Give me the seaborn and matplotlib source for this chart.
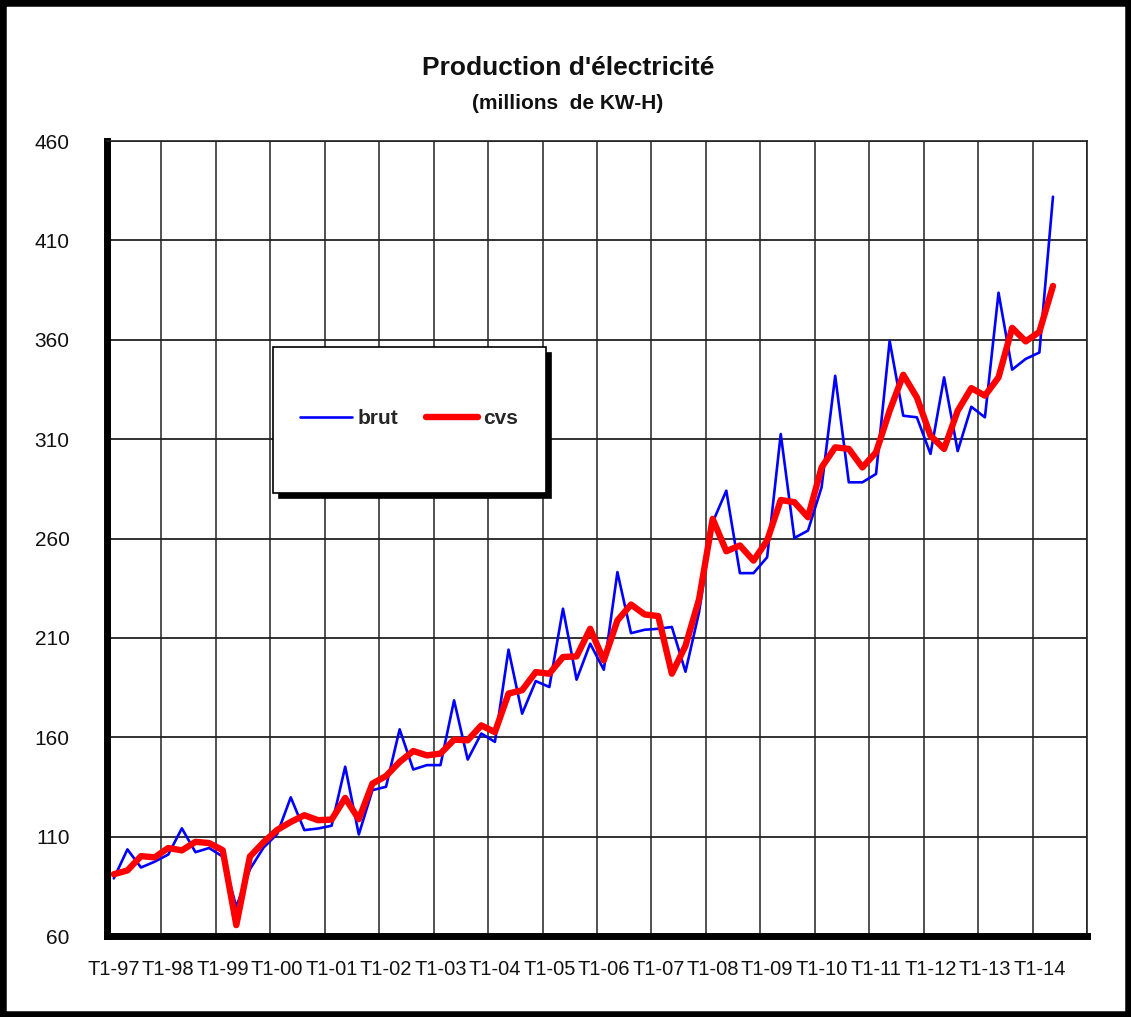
import numpy as np
import pandas as pd
import matplotlib
matplotlib.use('Agg')
import matplotlib.pyplot as plt
from matplotlib.patches import Rectangle
import seaborn as sns

# quarterly electricity production (millions of KW-H), T1-97 .. T2-14
brut = [89.0, 103.6, 94.5, 97.4, 101.0, 114.2, 102.2, 104.3,
        100.0, 74.7, 93.6, 104.5, 111.3, 129.8, 113.3, 114.1,
        115.5, 145.2, 111.1, 133.4, 135.1, 164.0, 143.8, 146.0,
        146.0, 178.6, 148.8, 161.9, 157.7, 204.1, 171.9, 188.3,
        185.3, 224.7, 189.0, 207.1, 194.0, 243.1, 212.4, 214.1,
        214.6, 215.5, 193.0, 223.0, 268.2, 284.1, 242.6, 242.6,
        250.6, 312.6, 260.3, 264.0, 285.8, 341.9, 288.3, 288.3,
        292.5, 359.5, 321.8, 321.0, 302.6, 341.1, 304.0, 326.3,
        321.0, 383.7, 345.0, 350.4, 353.6, 432.0]
cvs = [91.1, 93.0, 100.2, 99.6, 104.3, 103.1, 107.4, 106.8,
       103.2, 65.5, 100.0, 107.2, 113.4, 117.4, 120.8, 118.3,
       118.6, 129.5, 118.8, 136.7, 140.5, 147.6, 153.1, 150.9,
       151.8, 158.8, 158.5, 166.0, 162.6, 182.0, 183.7, 192.8,
       192.0, 200.4, 200.7, 214.6, 198.7, 218.8, 226.8, 221.8,
       221.0, 192.0, 206.0, 229.5, 269.9, 253.6, 256.5, 248.9,
       259.0, 279.4, 278.3, 270.7, 295.8, 305.9, 305.1, 295.8,
       303.4, 324.3, 342.4, 331.0, 311.8, 305.1, 324.3, 335.7,
       331.9, 341.1, 366.0, 359.2, 364.0, 387.1]
year_labels = ['T1-97', 'T1-98', 'T1-99', 'T1-00', 'T1-01', 'T1-02',
               'T1-03', 'T1-04', 'T1-05', 'T1-06', 'T1-07', 'T1-08',
               'T1-09', 'T1-10', 'T1-11', 'T1-12', 'T1-13', 'T1-14']
y_ticks = [60, 110, 160, 210, 260, 310, 360, 410, 460]

sns.set_style('white')
plt.rcParams['font.family'] = ['Liberation Sans', 'DejaVu Sans']

df = pd.DataFrame({'q': np.arange(len(brut)), 'brut': brut, 'cvs': cvs})

fig = plt.figure(figsize=(11.31, 10.17), dpi=100)
ax = fig.add_axes([0.0946, 0.0796, 0.8665, 0.7817])
ax.set_axisbelow(True)

sns.lineplot(data=df, x='q', y='brut', color='#0000FF', lw=1.9, ax=ax, label='brut')
sns.lineplot(data=df, x='q', y='cvs', color='#FF0000', lw=4.6, ax=ax, label='cvs')

n_cat = 4 * len(year_labels)
ax.set_xlim(-0.5, n_cat - 0.5)
ax.set_ylim(y_ticks[0], y_ticks[-1])
ax.set_xlabel('')
ax.set_ylabel('')

ax.set_xticks(np.arange(0, n_cat, 4), year_labels)
ax.set_xticks(np.arange(-0.5, n_cat, 4), minor=True)
ax.set_yticks(y_ticks)
ax.tick_params(axis='x', which='major', length=0, pad=17, labelsize=14.5, labelcolor='#111111')
ax.tick_params(axis='x', which='minor', length=4, width=3, direction='in', color='black')
ax.tick_params(axis='y', length=3, width=2, pad=24, labelsize=15, color='black',
               labelcolor='#111111')

ax.grid(True, axis='y', color='#222222', lw=1.3)
ax.grid(True, axis='x', which='minor', color='#222222', lw=1.1)
ax.grid(False, axis='x', which='major')

for side in ['left', 'bottom']:
    ax.spines[side].set_color('black')
    ax.spines[side].set_linewidth(5)
for side in ['top', 'right']:
    ax.spines[side].set_color('#222222')
    ax.spines[side].set_linewidth(1.2)

leg = ax.legend(loc='upper left', bbox_to_anchor=(273 / 1131, 1 - 347 / 1017),
                bbox_transform=fig.transFigure, borderaxespad=0, ncol=2,
                frameon=True, fancybox=False, borderpad=1.3, handlelength=2.5,
                handletextpad=0.25, columnspacing=1.35, handleheight=6.4, framealpha=1,
                prop={'weight': 'bold', 'size': 15},
                shadow={'color': 'black', 'alpha': 1, 'ox': 4, 'oy': -4})
leg.get_frame().set_edgecolor('black')
leg.get_frame().set_linewidth(1.2)
# line the legend handles up with the middle of the text
for line in leg.get_lines():
    line.set_ydata(np.asarray(line.get_ydata()) - 12.5)

fig.text(0.502, 1 - 68 / 1017, "Production d'électricité", ha='center', va='center',
         fontsize=19, weight='bold', color='#111111')
fig.text(0.502, 1 - 103 / 1017, "(millions  de KW-H)", ha='center', va='center',
         fontsize=15, weight='bold', color='#111111')

fig.add_artist(Rectangle((0, 0), 1, 1, transform=fig.transFigure, fill=False,
                         edgecolor='black', lw=9))

fig.savefig('out.png', dpi=100)
